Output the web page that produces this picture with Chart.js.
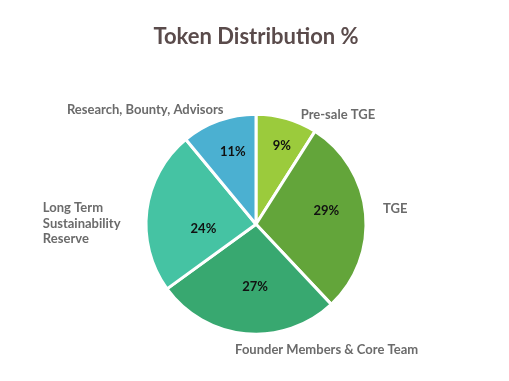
<!DOCTYPE html>
<html>
<head>
<meta charset="utf-8">
<script src="https://cdn.jsdelivr.net/npm/chart.js@4.4.1/dist/chart.umd.min.js"></script>
<style>
html,body{margin:0;padding:0;background:#fff;}
#wrap{width:509px;height:381px;position:relative;}
</style>
</head>
<body>
<div id="wrap"><canvas id="c" width="509" height="381"></canvas></div>
<script>
// ---- data ----
const categories = ["Pre-sale TGE", "TGE", "Founder Members & Core Team", "Long Term Sustainability Reserve", "Research, Bounty, Advisors"];
const outerLabelLines = [["Pre-sale TGE"], ["TGE"], ["Founder Members & Core Team"], ["Long Term", "Sustainability", "Reserve"], ["Research, Bounty, Advisors"]];
const shares = [9, 29, 27, 24, 11];
const chartTitle = "Token Distribution %";

// ---- style ----
const sliceColors = ["#9BCB3C", "#63A53A", "#38A870", "#45C3A3", "#4BB0D1"];
// percent label placement: fraction of radius, angle shift (deg)
const pctPlace = [{r:0.75,a:2},{r:0.65,a:-5},{r:0.57,a:-4.5},{r:0.48,a:-12.5},{r:0.69,a:2}];
// outer label placement relative to slice edge midpoint
const outPlace = [
  {dx:14, dy:-4, align:"left"},
  {dx:17.5, dy:-5, align:"left"},
  {dx:81, dy:16.5, align:"center"},
  {dx:-104, dy:13, align:"left"},
  {dx:-73.5, dy:-10.5, align:"center"}
];
const FONT = "Lato, 'Open Sans', sans-serif";

const labelPlugin = {
  id: "sliceLabels",
  afterDatasetsDraw(chart) {
    const ctx = chart.ctx;
    const meta = chart.getDatasetMeta(0);
    ctx.save();
    meta.data.forEach((arc, i) => {
      const p = arc.getProps(["x","y","startAngle","endAngle","outerRadius"], true);
      const mid = (p.startAngle + p.endAngle) / 2;
      // percent
      const pp = pctPlace[i];
      const a = mid + pp.a * Math.PI / 180;
      const px = p.x + Math.cos(a) * p.outerRadius * pp.r;
      const py = p.y + Math.sin(a) * p.outerRadius * pp.r;
      ctx.font = "bold 13px " + FONT;
      ctx.fillStyle = "#111111";
      ctx.textAlign = "center";
      ctx.textBaseline = "middle";
      ctx.fillText(shares[i] + "%", px, py);
      // outer label
      const ex = p.x + Math.cos(mid) * p.outerRadius;
      const ey = p.y + Math.sin(mid) * p.outerRadius;
      const op = outPlace[i];
      const lines = outerLabelLines[i];
      const lh = 15.5;
      ctx.font = "bold 13px " + FONT;
      ctx.fillStyle = "#6B6B6B";
      ctx.textAlign = op.align;
      lines.forEach((ln, k) => {
        const y = ey + op.dy + (k - (lines.length - 1) / 2) * lh;
        ctx.fillText(ln, ex + op.dx, y);
      });
    });
    ctx.restore();
  }
};

new Chart(document.getElementById("c"), {
  type: "pie",
  data: {
    labels: categories,
    datasets: [{
      data: shares,
      backgroundColor: sliceColors,
      borderColor: "#ffffff",
      borderWidth: 3,
      radius: 110
    }]
  },
  options: {
    responsive: false,
    animation: false,
    events: [],
    layout: { padding: { left: 3, right: 0, top: 0, bottom: 20 } },
    plugins: {
      legend: { display: false },
      tooltip: { enabled: false },
      title: {
        display: true,
        text: chartTitle,
        color: "#5A4B4B",
        font: { family: FONT, size: 22, weight: "bold", lineHeight: 1.2 },
        padding: { top: 24, bottom: 37 }
      }
    }
  },
  plugins: [labelPlugin]
});
</script>
</body>
</html>
